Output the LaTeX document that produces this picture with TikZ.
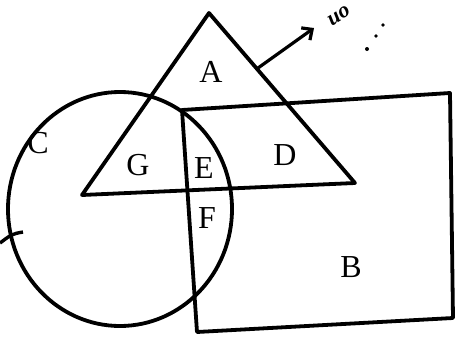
\documentclass[tikz,border=0pt]{standalone}
\usetikzlibrary{arrows.meta}
\usepackage{fontspec}
\setmainfont{Liberation Serif}
\begin{document}
\begin{tikzpicture}[x=1pt,y=-1pt,
  outl/.style={line width=3.8pt,line join=round},
  lbl/.style={font=\fontsize{32}{32}\selectfont,inner sep=0pt}]
\useasboundingbox (0,0) rectangle (456,338);
% triangle
\coordinate (t1) at (209,13);
\coordinate (t2) at (82,195);
\coordinate (t3) at (355,183);
\draw[outl] (t1) -- (t2) -- (t3) -- cycle;
% circle
\draw[outl] (120,209) ellipse [x radius=112, y radius=117];
% rectangle
\coordinate (r1) at (182,110);
\coordinate (r2) at (450,93);
\coordinate (r3) at (453,318);
\coordinate (r4) at (197,332);
\draw[outl] (r1) -- (r2) -- (r3) -- (r4) -- cycle;
% pointer from circle
\coordinate (c0) at (23,232);
\coordinate (c1) at (0,243);
\draw[line width=3.4pt] (c0) .. controls (12,234) .. (c1);
% arrow from triangle
\coordinate (a0) at (258,68);
\coordinate (a1) at (314,28);
\draw[line width=3.2pt,-{Straight Barb[length=8pt,width=15pt]}] (a0) -- (a1);
\node[rotate=32,font=\fontsize{22}{22}\itshape\bfseries,inner sep=0pt] (hw) at (339,16) {uo};
% dots
\fill (383,25) circle (1.8pt);
\fill (376,36) circle (1.8pt);
\fill (367,49) circle (2pt);
% labels
\node[lbl] (A) at (211,72) {A};
\node[lbl] (B) at (351,267) {B};
\node[lbl] (C) at (38,143) {C};
\node[lbl] (D) at (285,155) {D};
\node[lbl] (E) at (204,168) {E};
\node[lbl] (F) at (207,218) {F};
\node[lbl] (G) at (138,165) {G};
\end{tikzpicture}
\end{document}
